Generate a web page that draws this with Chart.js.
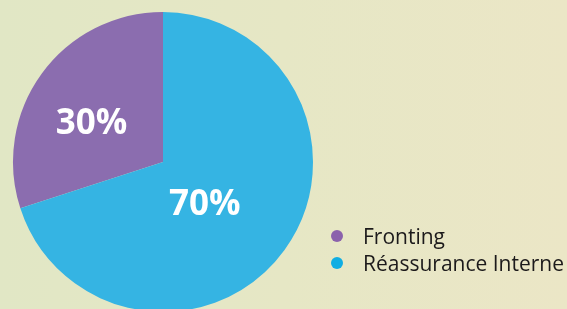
<!DOCTYPE html>
<html>
<head>
<meta charset="utf-8">
<script src="https://cdn.jsdelivr.net/npm/chart.js@4/dist/chart.umd.min.js"></script>
<style>
  html, body { margin: 0; padding: 0; }
  body { width: 567px; height: 309px; overflow: hidden; }
  .chart-container {
    position: relative;
    width: 567px;
    height: 309px;
    overflow: hidden;
    background: linear-gradient(to right, #e1e7c5 0%, #e6e7c5 50%, #ebe6c6 100%);
  }
  #shareChart { position: absolute; left: 0; top: 0; }
  .legend {
    position: absolute;
    left: 331px;
    top: 222px;
    margin: 0;
    padding: 0;
    list-style: none;
    font-family: "Open Sans", sans-serif;
    font-size: 21px;
    color: #1c1a1b;
  }
  .legend li { display: flex; align-items: center; height: 27px; }
  .legend .dot {
    display: inline-block;
    width: 12px;
    height: 12px;
    border-radius: 50%;
    margin-right: 20px;
  }
</style>
</head>
<body>
<div class="chart-container">
  <canvas id="shareChart" width="567" height="324"></canvas>
  <ul class="legend" id="legend"></ul>
</div>
<script>
const labels = ['Fronting', 'Réassurance Interne'];
const shares = [30, 70];
const sliceColors = ['#8b6daf', '#35b4e3'];
const dotColors = ['#8b62ac', '#10aee3'];
// where each percentage sits: degrees off the slice middle, fraction of radius
const labelPlacement = [[-8, 0.54], [10, 0.40]];

const canvas = document.getElementById('shareChart');

const percentLabels = {
  id: 'percentLabels',
  afterDatasetsDraw(chart) {
    const ctx = chart.ctx;
    const meta = chart.getDatasetMeta(0);
    ctx.save();
    ctx.fillStyle = '#ffffff';
    ctx.font = 'bold 35px "Open Sans", sans-serif';
    ctx.textAlign = 'center';
    ctx.textBaseline = 'middle';
    meta.data.forEach((arc, i) => {
      const mid = (arc.startAngle + arc.endAngle) / 2 + labelPlacement[i][0] * Math.PI / 180;
      const r = arc.outerRadius * labelPlacement[i][1];
      ctx.fillText(shares[i] + '%', arc.x + Math.cos(mid) * r, arc.y + Math.sin(mid) * r);
    });
    ctx.restore();
  }
};

const chart = new Chart(canvas.getContext('2d'), {
  type: 'pie',
  data: {
    labels: labels,
    datasets: [{
      data: shares,
      backgroundColor: sliceColors,
      borderWidth: 0
    }]
  },
  options: {
    responsive: false,
    animation: false,
    rotation: 252,
    layout: { padding: { left: 13, top: 12, right: 254, bottom: 12 } },
    plugins: {
      legend: { display: false },
      tooltip: { enabled: false }
    }
  },
  plugins: [percentLabels]
});

const legendEl = document.getElementById('legend');
chart.options.plugins.legend.labels.generateLabels(chart).forEach((item, i) => {
  const li = document.createElement('li');
  const dot = document.createElement('span');
  dot.className = 'dot';
  dot.style.background = dotColors[i];
  li.appendChild(dot);
  li.appendChild(document.createTextNode(item.text));
  legendEl.appendChild(li);
});
</script>
</body>
</html>
